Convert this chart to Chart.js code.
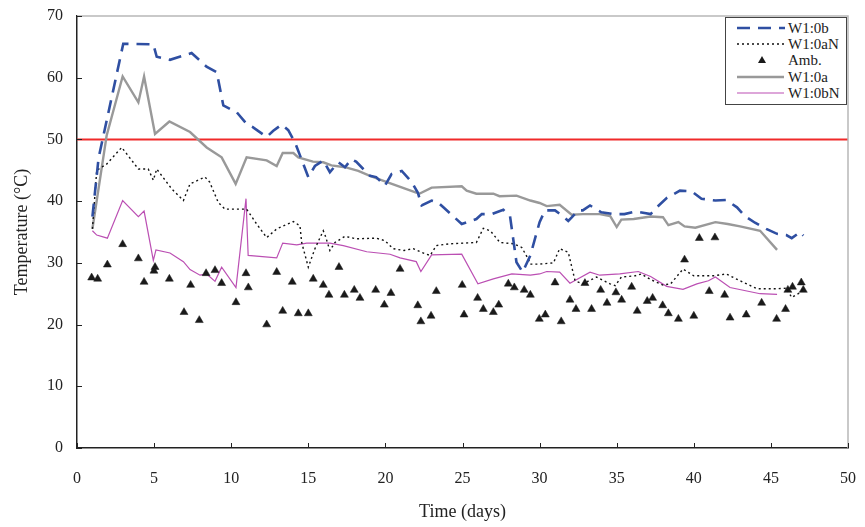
<!DOCTYPE html>
<html lang="en">
<head>
  <meta charset="UTF-8" />
  <title>Temperature vs Time</title>
  <script src="https://cdn.jsdelivr.net/npm/chart.js@4.4.0"></script>
  <style>
    * { box-sizing: border-box; margin: 0; padding: 0; }
    body { background: #fff; font-family: 'Liberation Serif', serif; color: #222; }
    .wrap { position: relative; width: 865px; height: 527px; }
    .legend {
      position: absolute;
      left: 725px; top: 17px;
      width: 122px; height: 88px;
      border: 1px solid #444;
      background: #fff;
      padding-top: 2px;
      font-size: 15px;
      line-height: 16.2px;
    }
    .legend .row { display: flex; align-items: center; height: 16.2px; }
    .legend svg { width: 60px; height: 16px; flex: none; }
    .legend span { margin-left: 2px; }
  </style>
</head>
<body>
  <div class="wrap">
    <canvas id="chart" width="865" height="527"></canvas>
    <div class="legend" id="legend"></div>
  </div>

  <script>
    // series: day / temperature (°C)
    const w1bDays = [1, 1.4, 3, 4.95, 5.17, 6.03, 7.43, 8.4, 9.06, 9.49, 10.36, 11.0, 11.4, 12.3, 12.73, 13.27, 13.7, 14.14, 15.0, 15.43, 15.97, 16.4, 16.95, 17.38, 17.8, 18.1, 19.0, 19.4, 19.97, 20.4, 21.06, 21.7, 22.1, 22.35, 23.0, 23.4, 23.76, 24.95, 25.9, 26.25, 26.9, 27.65, 28.08, 28.5, 28.9, 29.4, 30.0, 30.35, 31.0, 31.5, 31.86, 32.1, 32.5, 32.8, 33.27, 34.0, 34.8, 35.5, 36.2, 36.5, 37.2, 37.6, 38.24, 39.1, 39.86, 40.5, 41.4, 42.1, 42.8, 43.3, 43.97, 44.7, 45.4, 46.0, 46.35, 46.9, 47.1];
    const w1bTemps = [37.5, 47, 65.5, 65.4, 63.4, 62.9, 64, 61.8, 60.9, 55.5, 54.4, 52.5, 52, 50.4, 51.4, 52.4, 51.5, 49.5, 43.9, 45.7, 46.6, 44.7, 46.3, 45.5, 46.8, 46.4, 44.1, 43.9, 42.5, 44.4, 44.9, 43.1, 41.4, 39.3, 40.1, 39.8, 39, 36.3, 37.1, 37.9, 37.9, 38.6, 37.6, 30.1, 28.5, 31.2, 36.6, 38.5, 38.5, 37.6, 36.8, 37.4, 38.5, 38.5, 39.3, 38.2, 37.9, 37.9, 38.3, 38.2, 37.9, 39, 40.5, 41.7, 41.6, 40.4, 40.1, 40.2, 39, 37.6, 36.5, 35.5, 34.7, 34.5, 34, 35, 34.4];

    const w1aNDays = [1, 1.28, 1.92, 2.9, 3.55, 3.98, 4.62, 4.95, 5.17, 6.14, 6.9, 7.33, 8.3, 8.6, 9.16, 9.6, 10.14, 11.0, 11.65, 12.3, 12.95, 14.03, 14.46, 14.57, 15.0, 15.43, 15.97, 16.1, 16.4, 16.73, 17.38, 18.1, 19.4, 19.97, 20.5, 21.2, 21.8, 22.35, 22.9, 23.3, 24.2, 25.9, 26.35, 26.8, 27.43, 28.3, 28.84, 29.27, 29.4, 30.0, 30.9, 31.3, 31.86, 32.3, 32.8, 33.7, 34.57, 34.9, 35.3, 36.2, 36.6, 37.2, 38.0, 38.5, 39.3, 40.0, 41.3, 42.1, 43.0, 44.1, 45.4, 46.0, 46.35, 46.9, 47.1];
    const w1aNTemps = [35.5, 45, 46, 48.7, 46.6, 45.2, 45.2, 43.4, 45.2, 42, 40.1, 42.8, 43.9, 43.1, 39.8, 38.7, 38.7, 38.7, 36.3, 34.1, 35.5, 36.7, 36, 33.3, 29.3, 32.3, 35.2, 34.4, 32, 33.3, 34.3, 33.9, 34, 33.6, 32.3, 32, 32.3, 31.7, 31.2, 32.8, 33.1, 33.3, 35.6, 35.2, 33.3, 33.1, 32.5, 30.6, 29.8, 29.8, 30, 32.3, 31.7, 27.1, 26.6, 27.7, 26.6, 26.3, 27.7, 27.9, 28.2, 27.3, 26.4, 26.6, 29, 27.9, 27.9, 28.2, 27.1, 25.8, 25.8, 25.9, 24.4, 25.2, 25.8];

    const ambDays = [0.95, 1.34, 1.97, 2.96, 3.98, 4.35, 5.06, 4.99, 5.99, 6.94, 7.37, 7.93, 8.37, 8.95, 9.38, 10.31, 10.96, 11.11, 12.3, 12.95, 13.34, 13.96, 14.35, 15.0, 15.32, 15.97, 16.34, 16.99, 17.34, 17.98, 18.35, 19.37, 19.93, 20.36, 20.95, 22.1, 22.3, 22.96, 23.3, 24.98, 25.1, 25.98, 26.35, 27.0, 27.35, 27.97, 28.36, 29.0, 29.4, 29.98, 30.37, 31.0, 31.4, 31.97, 32.36, 32.94, 33.37, 33.96, 34.37, 34.95, 35.32, 35.97, 36.33, 36.98, 37.33, 37.98, 38.35, 39.0, 39.4, 40.0, 40.36, 41.0, 41.37, 42.0, 42.35, 43.4, 44.4, 45.37, 45.95, 46.1, 46.4, 46.97, 47.1];
    const ambTemps = [27.6, 27.4, 29.7, 33, 30.7, 26.9, 29.3, 28.7, 27.4, 22, 26.4, 20.7, 28.3, 28.8, 26.7, 23.6, 28.3, 26, 20, 28.5, 22.2, 26.9, 21.8, 21.8, 27.4, 26.4, 24.8, 29.3, 24.8, 25.6, 24.3, 25.6, 23.2, 25.1, 29, 23.1, 20.5, 21.4, 25.4, 26.4, 21.6, 24.3, 22.5, 22, 23.2, 26.6, 26, 25.6, 24.8, 20.9, 21.6, 26.8, 20.5, 24, 22.5, 26.7, 22.5, 25.6, 23.5, 25.2, 24, 26.1, 22.2, 23.8, 24.3, 23.1, 21.8, 20.9, 30.5, 21.4, 34, 25.4, 34.1, 24.8, 21.1, 21.6, 23.5, 20.9, 22.5, 25.6, 26.1, 26.8, 25.6];

    const w1aDays = [1, 1.92, 2.96, 3.98, 4.35, 5.06, 5.99, 7.33, 8.41, 9.38, 10.29, 11.0, 12.3, 12.95, 13.34, 14.03, 14.35, 15.3, 15.97, 16.5, 17.38, 18.24, 19.0, 20.1, 22.0, 22.2, 23.0, 24.95, 25.27, 25.9, 27.0, 27.4, 28.5, 29.4, 30.0, 30.46, 31.3, 32.08, 32.8, 33.9, 34.57, 35.0, 35.3, 36.1, 37.2, 38.0, 38.35, 39.0, 39.4, 40.1, 41.4, 42.2, 43.0, 44.3, 45.4];
    const w1aTemps = [35.5, 50.6, 60.2, 56, 60.2, 50.9, 52.9, 51.2, 48.7, 47.1, 42.8, 47.1, 46.6, 45.7, 47.8, 47.8, 47.1, 46.4, 46.3, 45.8, 45.5, 44.9, 44.1, 43.1, 41.4, 41.2, 42.2, 42.4, 41.7, 41.2, 41.2, 40.8, 40.9, 40.1, 39.7, 39.2, 39.4, 37.8, 37.9, 37.9, 37.6, 35.8, 37, 37.1, 37.5, 37.4, 36.1, 36.6, 35.9, 35.7, 36.6, 36.3, 35.9, 35.2, 32.1];

    const w1bNDays = [1, 1.28, 1.97, 2.96, 3.98, 4.35, 4.95, 5.12, 6.03, 6.9, 7.33, 7.98, 8.41, 8.95, 9.38, 10.31, 10.96, 11.1, 12.95, 13.34, 14.25, 14.9, 16.4, 17.27, 18.79, 20.3, 20.95, 22.0, 22.3, 23.0, 24.95, 26.0, 27.0, 28.2, 29.4, 30.0, 30.46, 31.3, 31.97, 33.27, 33.9, 35.2, 36.4, 37.2, 38.24, 39.3, 40.2, 40.95, 41.4, 42.35, 44.3, 45.4];
    const w1bNTemps = [35.2, 34.5, 34, 40.1, 37.5, 38.4, 30.4, 32.1, 31.6, 30.2, 28.9, 28, 28.2, 27, 29.3, 26, 40.4, 31.2, 30.8, 33.2, 32.9, 33.2, 33.2, 32.8, 31.8, 31.4, 30.8, 30.2, 28.6, 31.3, 31.4, 26.6, 27.4, 28.2, 28, 28.2, 28.6, 28.5, 26.7, 28.5, 28, 28.2, 28.6, 27.8, 26.2, 25.7, 26.6, 27.1, 27.7, 26, 25, 24.9];

    const LIMIT = 50;               // red reference line
    const X_MIN = 0, X_MAX = 50, X_STEP = 5;
    const Y_MIN = 0, Y_MAX = 70, Y_STEP = 10;

    const pts = (xs, ys) => xs.map((x, i) => ({ x, y: ys[i] }));
    const FONT = "'Liberation Serif', 'Times New Roman', serif";

    const series = [
      { label: 'W1:0b', data: pts(w1bDays, w1bTemps), color: '#2f4fa2', width: 2.6, dash: [13, 8] },
      { label: 'W1:0aN', data: pts(w1aNDays, w1aNTemps), color: '#111', width: 1.4, dash: [2, 3] },
      { label: 'Amb.', data: pts(ambDays, ambTemps), color: '#1a1a1a', marker: true },
      { label: 'W1:0a', data: pts(w1aDays, w1aTemps), color: '#999', width: 2.4, dash: [] },
      { label: 'W1:0bN', data: pts(w1bNDays, w1bNTemps), color: '#bb4fb3', width: 1.2, dash: [] }
    ];

    const datasets = series.map(s => s.marker ? {
      label: s.label,
      data: s.data,
      showLine: false,
      pointStyle: 'triangle',
      pointRadius: 4.6,
      pointBackgroundColor: s.color,
      pointBorderColor: s.color,
      pointBorderWidth: 0.5
    } : {
      label: s.label,
      data: s.data,
      borderColor: s.color,
      borderWidth: s.width,
      borderDash: s.dash,
      pointRadius: 0,
      tension: 0,
      fill: false
    });
    datasets.push({
      label: 'limit',
      data: [{ x: X_MIN, y: LIMIT }, { x: X_MAX, y: LIMIT }],
      borderColor: '#f02a2a',
      borderWidth: 2,
      pointRadius: 0
    });

    // inward tick marks + light frame on top/right
    const frame = {
      id: 'frame',
      afterDraw(chart) {
        const { ctx, chartArea: a, scales: { x, y } } = chart;
        ctx.save();
        ctx.strokeStyle = '#b8b8b8';
        ctx.lineWidth = 1.5;
        ctx.beginPath();
        ctx.moveTo(a.left, a.top); ctx.lineTo(a.right, a.top); ctx.lineTo(a.right, a.bottom);
        ctx.stroke();
        ctx.strokeStyle = '#222';
        ctx.lineWidth = 1;
        ctx.beginPath();
        x.ticks.forEach(t => {
          const px = Math.round(x.getPixelForValue(t.value)) + 0.5;
          ctx.moveTo(px, a.bottom); ctx.lineTo(px, a.bottom - 5);
        });
        y.ticks.forEach(t => {
          const py = Math.round(y.getPixelForValue(t.value)) + 0.5;
          ctx.moveTo(a.left, py); ctx.lineTo(a.left + 5, py);
        });
        ctx.stroke();
        ctx.restore();
      }
    };

    new Chart(document.getElementById('chart'), {
      type: 'line',
      data: { datasets },
      options: {
        responsive: false,
        animation: false,
        layout: { padding: { left: 0, top: 16, right: 17, bottom: 0 } },
        plugins: { legend: { display: false }, tooltip: { enabled: false } },
        scales: {
          x: {
            type: 'linear',
            min: X_MIN, max: X_MAX,
            grid: { display: false, drawTicks: false },
            border: { color: '#222', width: 1.5 },
            ticks: { stepSize: X_STEP, padding: 21, color: '#222', font: { family: FONT, size: 16 } },
            title: { display: true, text: 'Time (days)', color: '#222', font: { family: FONT, size: 18 }, padding: { top: 0, bottom: 4 } },
            afterFit: s => { s.height = 79; s.paddingLeft = 0; s.paddingRight = 0; }
          },
          y: {
            type: 'linear',
            min: Y_MIN, max: Y_MAX,
            grid: { display: false, drawTicks: false },
            border: { color: '#222', width: 1.5 },
            ticks: { stepSize: Y_STEP, padding: 14, color: '#222', font: { family: FONT, size: 16 } },
            title: { display: true, text: 'Temperature (°C)', color: '#222', font: { family: FONT, size: 18 }, padding: { top: 11, bottom: 0 } },
            afterFit: s => { s.width = 77; s.paddingTop = 0; s.paddingBottom = 0; }
          }
        }
      },
      plugins: [frame]
    });

    // legend as html text, samples as small svg strokes
    const legend = document.getElementById('legend');
    series.forEach(s => {
      const row = document.createElement('div');
      row.className = 'row';
      const sample = s.marker
        ? `<polygon points="36,4 32,11 40,11" fill="${s.color}"/>`
        : `<line x1="11" y1="8" x2="${s.dash.length ? 59 : 58}" y2="8" stroke="${s.color}" stroke-width="${s.width}" stroke-dasharray="${s.dash.join(' ')}"/>`;
      row.innerHTML = `<svg viewBox="0 0 60 16">${sample}</svg><span>${s.label}</span>`;
      legend.appendChild(row);
    });
  </script>
</body>
</html>
